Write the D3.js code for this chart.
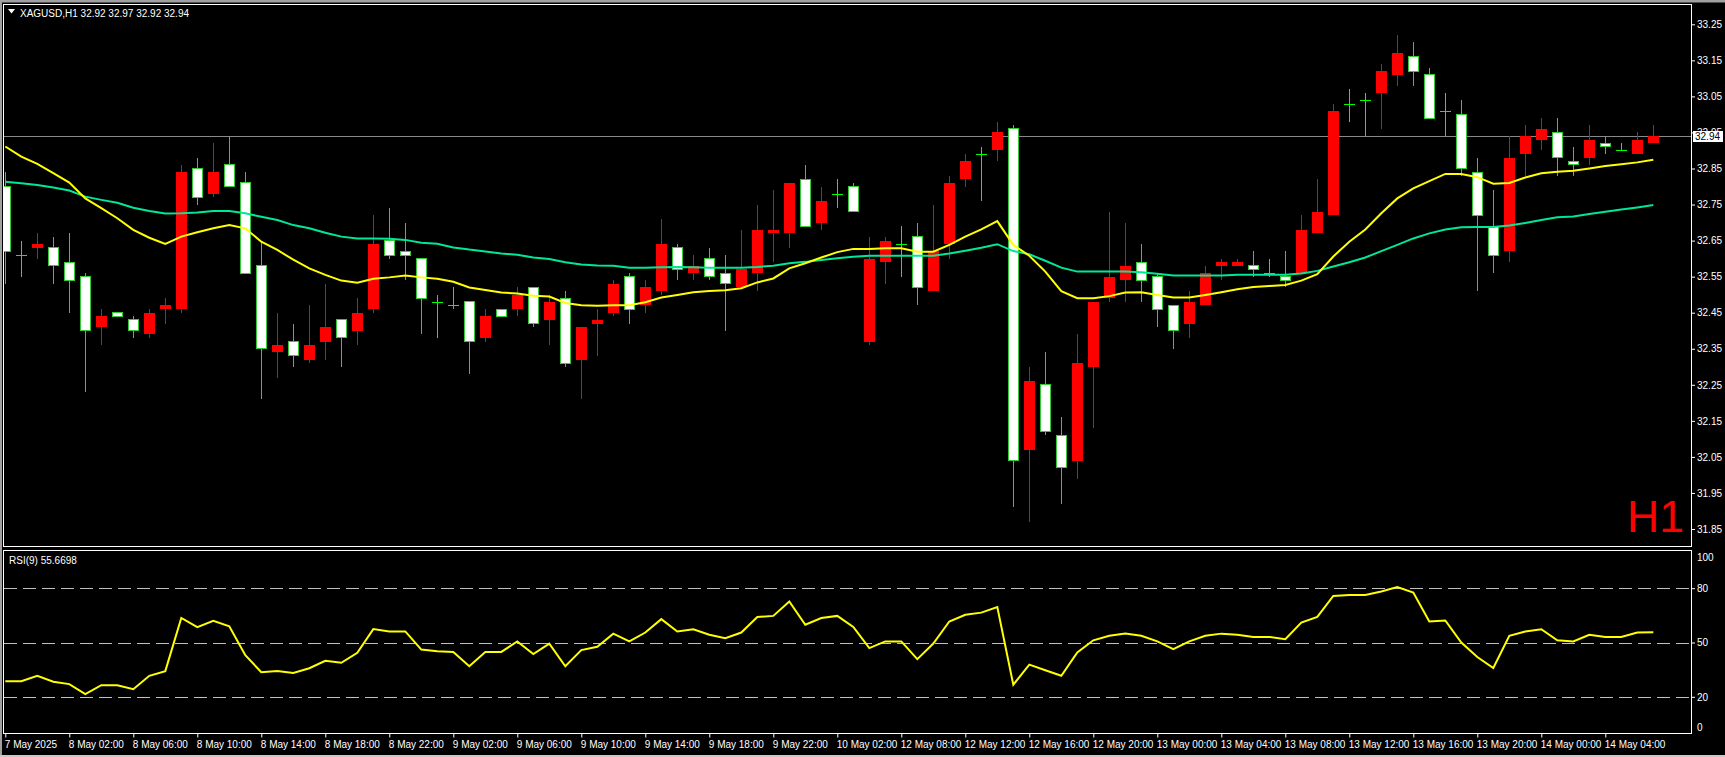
<!DOCTYPE html>
<html><head><meta charset="utf-8">
<script src="https://cdn.jsdelivr.net/npm/d3@7"></script>
<style>html,body{margin:0;padding:0;background:#000;overflow:hidden}svg{display:block}</style>
</head><body>
<svg id="c" width="1725" height="757"></svg>
<script>
// ---------------- DATA ----------------
const symbolTitle = "XAGUSD,H1";
const lastOHLC = ["32.92","32.97","32.92","32.94"];
const rsiTitle = "RSI(9) 55.6698";
const periodMark = "H1";
const lastPrice = 32.94;

const opens  = [32.80,32.61,32.63,32.63,32.59,32.55,32.41,32.45,32.43,32.39,32.46,32.46,32.85,32.78,32.86,32.81,32.58,32.34,32.37,32.32,
  32.37,32.43,32.40,32.46,32.65,32.62,32.60,32.48,32.47,32.48,32.38,32.46,32.46,32.52,32.43,32.49,32.32,32.42,32.45,32.55,
  32.47,32.51,32.63,32.56,32.60,32.56,32.52,32.56,32.67,32.67,32.82,32.70,32.78,32.80,32.37,32.59,32.64,32.66,32.51,32.64,
  32.82,32.89,32.90,32.96,32.07,32.25,32.11,32.04,32.30,32.49,32.54,32.59,32.55,32.47,32.42,32.47,32.58,32.58,32.58,32.56,
  32.55,32.56,32.67,32.72,33.03,33.04,33.06,33.11,33.16,33.11,33.01,33.00,32.84,32.69,32.62,32.89,32.93,32.95,32.87,32.88,
  32.92,32.90,32.89,32.92];
const highs  = [32.84,32.65,32.67,32.66,32.67,32.56,32.46,32.45,32.44,32.46,32.49,32.86,32.88,32.92,32.94,32.84,32.65,32.45,32.42,32.47,
  32.53,32.43,32.49,32.72,32.74,32.70,32.60,32.50,32.52,32.48,32.46,32.46,32.52,32.52,32.50,32.51,32.41,32.46,32.54,32.56,
  32.54,32.71,32.64,32.61,32.63,32.61,32.68,32.75,32.79,32.81,32.86,32.80,32.82,32.81,32.66,32.66,32.69,32.70,32.75,32.83,
  32.89,32.91,32.98,32.97,32.30,32.34,32.16,32.39,32.48,32.73,32.70,32.64,32.56,32.47,32.51,32.58,32.60,32.60,32.62,32.60,
  32.62,32.72,32.82,33.03,33.07,33.06,33.14,33.22,33.20,33.13,33.06,33.04,32.88,32.79,32.94,32.97,32.99,32.99,32.91,32.97,
  32.94,32.92,32.95,32.97];
const lows   = [32.53,32.55,32.60,32.53,32.45,32.23,32.36,32.44,32.38,32.38,32.42,32.45,32.75,32.77,32.80,32.56,32.21,32.27,32.30,32.31,
  32.32,32.30,32.36,32.45,32.60,32.54,32.39,32.38,32.46,32.28,32.37,32.44,32.44,32.41,32.36,32.30,32.21,32.33,32.44,32.42,
  32.45,32.50,32.54,32.54,32.54,32.40,32.52,32.51,32.59,32.63,32.69,32.68,32.74,32.73,32.36,32.53,32.55,32.47,32.51,32.60,
  32.80,32.76,32.87,31.91,31.87,32.11,31.92,31.99,32.13,32.48,32.48,32.48,32.41,32.35,32.38,32.47,32.54,32.58,32.55,32.55,
  32.52,32.56,32.67,32.72,32.98,32.94,32.96,33.08,33.08,32.99,32.94,32.83,32.51,32.56,32.59,32.83,32.90,32.83,32.83,32.86,
  32.89,32.90,32.89,32.92];
const closes = [32.62,32.61,32.64,32.58,32.54,32.40,32.44,32.44,32.40,32.45,32.47,32.84,32.77,32.84,32.80,32.56,32.35,32.36,32.33,32.36,
  32.41,32.38,32.45,32.64,32.61,32.61,32.49,32.48,32.47,32.37,32.44,32.44,32.50,32.42,32.48,32.31,32.41,32.43,32.53,32.46,
  32.52,32.64,32.57,32.58,32.55,32.53,32.57,32.68,32.68,32.81,32.69,32.76,32.78,32.73,32.60,32.65,32.64,32.52,32.62,32.81,
  32.87,32.89,32.95,32.04,32.26,32.12,32.02,32.31,32.48,32.55,32.58,32.54,32.46,32.40,32.48,32.56,32.59,32.59,32.57,32.56,
  32.54,32.68,32.73,33.01,33.03,33.04,33.12,33.17,33.12,32.99,33.01,32.85,32.72,32.61,32.88,32.94,32.96,32.88,32.86,32.93,
  32.91,32.90,32.93,32.94];
const maFast = [32.911,32.883,32.863,32.837,32.811,32.767,32.740,32.712,32.680,32.658,32.641,32.661,32.673,32.684,32.693,32.684,32.647,32.624,
  32.597,32.573,32.555,32.539,32.533,32.544,32.548,32.553,32.548,32.544,32.536,32.520,32.513,32.506,32.503,32.497,32.495,32.477,
  32.471,32.469,32.471,32.471,32.479,32.492,32.499,32.507,32.510,32.512,32.518,32.534,32.545,32.573,32.587,32.603,32.618,
  32.627,32.627,32.629,32.629,32.619,32.619,32.638,32.661,32.681,32.704,32.638,32.608,32.564,32.510,32.490,32.490,32.496,32.506,
  32.507,32.499,32.492,32.492,32.499,32.507,32.515,32.521,32.524,32.527,32.539,32.557,32.606,32.647,32.681,32.726,32.767,
  32.795,32.815,32.835,32.835,32.826,32.808,32.810,32.825,32.837,32.841,32.844,32.850,32.857,32.862,32.867,32.874];
const maSlow = [32.813,32.809,32.804,32.797,32.789,32.772,32.763,32.755,32.741,32.732,32.725,32.726,32.728,32.732,32.732,32.726,32.716,32.707,
  32.693,32.684,32.672,32.661,32.656,32.656,32.655,32.652,32.644,32.641,32.631,32.625,32.620,32.614,32.611,32.603,32.599,32.590,
  32.584,32.581,32.580,32.575,32.575,32.576,32.577,32.576,32.575,32.575,32.575,32.577,32.580,32.587,32.591,32.596,32.601,
  32.605,32.608,32.608,32.608,32.608,32.608,32.614,32.622,32.630,32.640,32.621,32.612,32.594,32.575,32.564,32.564,32.564,32.564,
  32.562,32.558,32.553,32.553,32.553,32.553,32.555,32.555,32.555,32.555,32.559,32.566,32.578,32.590,32.603,32.621,32.638,
  32.656,32.670,32.681,32.687,32.688,32.688,32.692,32.699,32.707,32.715,32.717,32.724,32.730,32.736,32.742,32.749];
const rsi = [28.6,28.6,31.6,28.3,27.0,21.5,26.4,26.4,24.2,31.6,34.2,63.6,58.5,62.0,59.0,43.0,33.6,34.3,33.2,35.8,
  39.9,38.8,44.3,57.4,56.1,56.1,46.1,45.2,44.8,36.9,44.8,44.8,50.6,43.6,49.4,36.9,45.8,47.6,
  54.9,50.6,55.5,62.9,56.1,57.3,54.3,52.4,55.5,64.1,64.7,72.7,59.8,63.5,64.7,58.6,46.9,50.6,50.6,40.8,49.4,61.6,
  65.3,66.5,69.6,26.7,37.8,34.7,31.6,44.5,51.2,53.7,54.9,53.7,50.6,46.3,50.6,53.7,54.9,54.3,53.1,53.1,51.8,61.0,
  64.1,75.7,76.3,76.3,78.2,80.6,77.6,61.6,62.2,50.0,42.0,35.9,53.7,56.1,57.3,51.2,50.6,54.3,53.1,53.1,55.5,55.67];
const timeTickBars = [0,4,8,12,16,20,24,28,32,36,40,44,48,52,56,60,64,68,72,76,80,84,88,92,96,100];
const timeTickLabels = ["7 May 2025","8 May 02:00","8 May 06:00","8 May 10:00","8 May 14:00","8 May 18:00","8 May 22:00",
  "9 May 02:00","9 May 06:00","9 May 10:00","9 May 14:00","9 May 18:00","9 May 22:00","10 May 02:00","12 May 08:00",
  "12 May 12:00","12 May 16:00","12 May 20:00","13 May 00:00","13 May 04:00","13 May 08:00","13 May 12:00","13 May 16:00",
  "13 May 20:00","14 May 00:00","14 May 04:00"];
const priceTicks = [33.25,33.15,33.05,32.95,32.85,32.75,32.65,32.55,32.45,32.35,32.25,32.15,32.05,31.95,31.85];
const rsiLevels = [80,50,20];
const rsiTicks = [100,80,50,20,0];

// ---------------- LAYOUT ----------------
const N = closes.length;
const FONT = "'Liberation Sans', Arial, sans-serif";
const mainL = 3.5, mainR = 1691.5, mainT = 4.5, mainB = 546.5;
const rsiT = 550.5, rsiB = 733.5;

const svg = d3.select('#c');
svg.append('rect').attr('width',1725).attr('height',757).attr('fill','#000');
// window chrome
svg.append('rect').attr('x',0).attr('y',0).attr('width',1725).attr('height',2.5).attr('fill','#a0a0a0');
svg.append('rect').attr('x',0).attr('y',0).attr('width',2).attr('height',757).attr('fill','#a0a0a0');
svg.append('rect').attr('x',0).attr('y',755).attr('width',1725).attr('height',2).attr('fill','#c8c8c8');

const x = d3.scaleLinear().domain([0, N-1]).range([5.3, 5.3 + 16*(N-1)]);
const y = d3.scaleLinear().domain([31.85, 33.25]).range([529.0, 24.3]);
const yR = d3.scaleLinear().domain([0, 100]).range([733, 552]);

const defs = svg.append('defs');
defs.append('clipPath').attr('id','clipMain').append('rect')
  .attr('x',mainL+0.5).attr('y',mainT+0.5).attr('width',mainR-mainL-1).attr('height',mainB-mainT-1);
defs.append('clipPath').attr('id','clipRsi').append('rect')
  .attr('x',mainL+0.5).attr('y',rsiT+0.5).attr('width',mainR-mainL-1).attr('height',rsiB-rsiT-1);

// ---------------- MAIN PANEL ----------------
const gMain = svg.append('g').attr('clip-path','url(#clipMain)');

// price line
gMain.append('line').attr('x1',mainL).attr('x2',mainR)
  .attr('y1',Math.round(y(lastPrice))+0.5).attr('y2',Math.round(y(lastPrice))+0.5)
  .attr('stroke','#8a8a8a').attr('stroke-width',1);

const bars = d3.range(N).map(i => ({i, o:opens[i], h:highs[i], l:lows[i], c:closes[i]}));
const cx = d => Math.round(x(d.i)) + 0.5;
const gC = gMain.append('g').attr('shape-rendering','crispEdges');
// wicks
gC.selectAll('line.w').data(bars).join('line').attr('class','w')
  .attr('x1',cx).attr('x2',cx)
  .attr('y1',d=>y(d.h)).attr('y2',d=>y(d.l))
  .attr('stroke',d=> d.c>d.o ? '#ff0000' : (d.c<d.o ? '#32cd32' : '#00ff00'))
  .attr('stroke-width',1);
// bull (red) bodies
gC.selectAll('rect.up').data(bars.filter(d=>d.c>d.o)).join('rect').attr('class','up')
  .attr('x',d=>cx(d)-5.5).attr('width',11)
  .attr('y',d=>y(d.c)).attr('height',d=>Math.max(1,y(d.o)-y(d.c)))
  .attr('fill','#ff0000');
// bear (white) bodies
gC.selectAll('rect.dn').data(bars.filter(d=>d.c<d.o)).join('rect').attr('class','dn')
  .attr('x',d=>cx(d)-5).attr('width',10)
  .attr('y',d=>y(d.o)).attr('height',d=>Math.max(1,y(d.c)-y(d.o)))
  .attr('fill','#ffffff').attr('stroke','#32cd32').attr('stroke-width',1);
// doji
gC.selectAll('line.dj').data(bars.filter(d=>d.c===d.o)).join('line').attr('class','dj')
  .attr('x1',d=>cx(d)-5.5).attr('x2',d=>cx(d)+5.5)
  .attr('y1',d=>Math.round(y(d.o))+0.5).attr('y2',d=>Math.round(y(d.o))+0.5)
  .attr('stroke','#00ff00').attr('stroke-width',1);

// moving averages
const lineMain = arr => d3.line().x((v,i)=>x(i)).y(v=>y(v))(arr);
gMain.append('path').attr('d',lineMain(maSlow)).attr('fill','none').attr('stroke','#00e896').attr('stroke-width',2);
gMain.append('path').attr('d',lineMain(maFast)).attr('fill','none').attr('stroke','#ffff00').attr('stroke-width',2);

// frame
svg.append('rect').attr('x',mainL).attr('y',mainT).attr('width',mainR-mainL).attr('height',mainB-mainT)
  .attr('fill','none').attr('stroke','#ffffff').attr('stroke-width',1);

// header
svg.append('path').attr('d','M8,9 L15,9 L11.5,13.5 Z').attr('fill','#ffffff');
svg.append('text').attr('x',20).attr('y',16.5).attr('fill','#ffffff')
  .attr('font-family',FONT).attr('font-size',10)
  .text(symbolTitle + "  " + lastOHLC.join(' '));

// H1 mark
svg.append('text').attr('x',1684).attr('y',532).attr('text-anchor','end')
  .attr('fill','#ff0000').attr('font-family',FONT).attr('font-size',44.5).text(periodMark);

// price axis
const axP = d3.axisRight(y).tickValues(priceTicks).tickFormat(d3.format('.2f')).tickSize(3).tickPadding(2);
const gP = svg.append('g').attr('transform',`translate(${mainR+0.5},0)`).call(axP);
gP.select('.domain').remove();
gP.selectAll('line').attr('stroke','#ffffff');
gP.selectAll('text').attr('fill','#ffffff').attr('font-family',FONT).attr('font-size',10);

// current price box
const pY = y(lastPrice);
svg.append('rect').attr('x',1693).attr('y',Math.round(pY)-5).attr('width',30).attr('height',11)
  .attr('fill','#ffffff').attr('shape-rendering','crispEdges');
svg.append('text').attr('x',1695).attr('y',Math.round(pY)+4).attr('fill','#000000')
  .attr('font-family',FONT).attr('font-size',10).text(d3.format('.2f')(lastPrice));

// ---------------- RSI PANEL ----------------
const gR = svg.append('g').attr('clip-path','url(#clipRsi)');
gR.selectAll('line.lv').data(rsiLevels).join('line').attr('class','lv')
  .attr('x1',mainL).attr('x2',mainR)
  .attr('y1',d=>Math.round(yR(d))+0.5).attr('y2',d=>Math.round(yR(d))+0.5)
  .attr('stroke','#c0c0c0').attr('stroke-width',1).attr('stroke-dasharray','13,6')
  .attr('shape-rendering','crispEdges');
gR.append('path').attr('d',d3.line().x((v,i)=>x(i)).y(v=>yR(v))(rsi))
  .attr('fill','none').attr('stroke','#ffff00').attr('stroke-width',2);

svg.append('rect').attr('x',mainL).attr('y',rsiT).attr('width',mainR-mainL).attr('height',rsiB-rsiT)
  .attr('fill','none').attr('stroke','#ffffff').attr('stroke-width',1);
svg.append('text').attr('x',9).attr('y',564).attr('fill','#ffffff')
  .attr('font-family',FONT).attr('font-size',10).text(rsiTitle);

const axR = d3.axisRight(yR).tickValues(rsiTicks).tickFormat(d3.format('d')).tickSize(3).tickPadding(2);
const gRA = svg.append('g').attr('transform',`translate(${mainR+0.5},0)`).call(axR);
gRA.select('.domain').remove();
gRA.selectAll('line').attr('stroke','#ffffff');
gRA.selectAll('.tick').filter(d=>d===100||d===0).select('line').remove();
gRA.selectAll('.tick').filter(d=>d===100).select('text').attr('dy','0.32em').attr('y',5);
gRA.selectAll('.tick').filter(d=>d===0).select('text').attr('dy','0.32em').attr('y',-6);
gRA.selectAll('text').attr('fill','#ffffff').attr('font-family',FONT).attr('font-size',10);

// ---------------- TIME AXIS ----------------
const axT = d3.axisBottom(x).tickValues(timeTickBars)
  .tickFormat(d => timeTickLabels[timeTickBars.indexOf(d)]).tickSize(4).tickPadding(3);
const gT = svg.append('g').attr('transform',`translate(0,${rsiB})`).call(axT);
gT.select('.domain').remove();
gT.selectAll('line').attr('stroke','#ffffff');
gT.selectAll('text').attr('fill','#ffffff').attr('font-family',FONT).attr('font-size',10)
  .attr('text-anchor','start').attr('x',-1);
</script>
</body></html>
